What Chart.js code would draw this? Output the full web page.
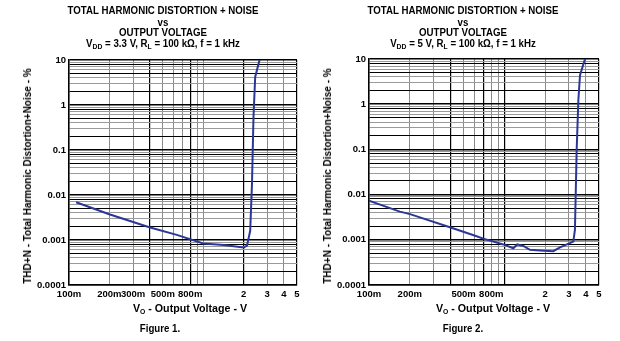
<!DOCTYPE html>
<html>
<head>
<meta charset="utf-8">
<script src="https://cdn.jsdelivr.net/npm/chart.js@4/dist/chart.umd.min.js"></script>
<style>
  html, body { margin: 0; padding: 0; background: #fff; }
  body { position: relative; width: 620px; height: 341px; overflow: hidden;
         font-family: "Liberation Sans", Arial, sans-serif; font-weight: bold; color: #000; }
  canvas { position: absolute; top: 0; }
  .t { position: absolute; white-space: nowrap; line-height: 1; font-size: 10px;
       transform: translate(-50%, -50%) scaleX(0.97); }
  .t sub { font-size: 7px; vertical-align: -2px; line-height: 0; }
  .yt { position: absolute; white-space: nowrap; line-height: 1; font-size: 10px;
        transform: translate(-50%, -50%) rotate(-90deg) scaleX(1.0); }
</style>
</head>
<body>
<canvas id="c1" width="310" height="341" style="left:0"></canvas>
<canvas id="c2" width="310" height="341" style="left:310px"></canvas>

<div class="t" style="left:163px;top:11px">TOTAL HARMONIC DISTORTION + NOISE</div>
<div class="t" style="left:163px;top:23px">vs</div>
<div class="t" style="left:163px;top:33px">OUTPUT VOLTAGE</div>
<div class="t" style="left:163px;top:44px">V<sub>DD</sub> = 3.3 V, R<sub>L</sub> = 100 kΩ, f = 1 kHz</div>
<div class="yt" style="left:28px;top:176px">THD+N - Total Harmonic Distortion+Noise - %</div>
<div class="t" style="left:190px;top:308px;font-size:11px">V<sub>O</sub> - Output Voltage - V</div>
<div class="t" style="left:160px;top:329px">Figure 1.</div>

<div class="t" style="left:463px;top:11px">TOTAL HARMONIC DISTORTION + NOISE</div>
<div class="t" style="left:463px;top:23px">vs</div>
<div class="t" style="left:463px;top:33px">OUTPUT VOLTAGE</div>
<div class="t" style="left:463px;top:44px">V<sub>DD</sub> = 5 V, R<sub>L</sub> = 100 kΩ, f = 1 kHz</div>
<div class="yt" style="left:328px;top:176px">THD+N - Total Harmonic Distortion+Noise - %</div>
<div class="t" style="left:493px;top:308px;font-size:11px">V<sub>O</sub> - Output Voltage - V</div>
<div class="t" style="left:463px;top:329px">Figure 2.</div>

<script>
// Measured THD+N (%) against output voltage (V)
const voltage33 = [0.113, 0.202, 0.402, 0.636, 1.0, 1.42, 2.0, 2.12, 2.24, 2.31, 2.37, 2.44, 2.63];
const thd33     = [0.0069, 0.0037, 0.0019, 0.0013, 0.00084, 0.00077, 0.00068, 0.00075, 0.0016, 0.018, 0.54, 4.2, 10];

const voltage5 = [0.1, 0.169, 0.201, 0.396, 0.624, 0.698, 0.982, 1.164, 1.245, 1.38, 1.545, 1.832, 2.297, 2.576, 3.23, 3.32, 3.42, 3.52, 3.62, 3.94];
const thd5     = [0.0073, 0.0042, 0.0037, 0.0019, 0.0012, 0.00106, 0.00079, 0.00065, 0.00079, 0.00073, 0.0006, 0.00058, 0.00056, 0.00068, 0.00091, 0.00165, 0.097, 1.24, 4.4, 10];

// Voltage grid lines and their labels
const xGrid = [0.1, 0.2, 0.3, 0.4, 0.5, 0.6, 0.7, 0.8, 0.9, 1, 2, 3, 4, 5];
const xLabels33 = ['100m', '200m', '300m', '', '500m', '', '', '800m', '', '', '2', '3', '4', '5'];
const xLabels5  = ['100m', '200m', '', '', '500m', '', '', '800m', '', '', '2', '3', '4', '5'];
const xDark33 = [0.1, 0.4, 0.8, 2, 5];
const xDark5  = [0.1, 0.4, 0.7, 1, 5];

// THD+N decades
const yDecades = [0.0001, 0.001, 0.01, 0.1, 1, 10];
const yLabels  = ['0.0001', '0.001', '0.01', '0.1', '1', '10'];
const yDarkMantissas = [1, 2, 5, 8];

const yGrid = [];
yDecades.forEach((d, i) => {
  if (i === yDecades.length - 1) { yGrid.push(d); return; }
  for (let m = 1; m <= 9; m++) yGrid.push(+(d * m).toPrecision(3));
});

function mantissa(v) {
  return Math.round(v / Math.pow(10, Math.floor(Math.log10(v) + 1e-9)));
}

Chart.defaults.font.family = '"Liberation Sans", Arial, sans-serif';
Chart.defaults.font.weight = 'bold';
Chart.defaults.color = '#000';

function makeChart(id, volts, thd, xLabels, xDark, plotLeft, padRight, top) {
  const dark = (v, list) => list.some(d => Math.abs(d - v) < 1e-6);
  return new Chart(document.getElementById(id), {
    type: 'line',
    data: {
      datasets: [{
        data: volts.map((v, i) => ({ x: v, y: thd[i] })),
        borderColor: '#2b3796',
        borderWidth: 2,
        pointRadius: 0,
        tension: 0,
        fill: false
      }]
    },
    options: {
      responsive: false,
      animation: false,
      devicePixelRatio: 1,
      layout: { padding: { left: 0, top: top, right: padRight, bottom: 36 } },
      plugins: { legend: { display: false }, tooltip: { enabled: false } },
      scales: {
        x: {
          type: 'logarithmic',
          min: 0.1, max: 5,
          afterBuildTicks: s => { s.ticks = xGrid.map(v => ({ value: v })); },
          afterFit: s => { s.height = 20; },
          ticks: {
            autoSkip: false, maxRotation: 0, padding: 4,
            font: { size: 9.5, weight: 'bold' },
            callback: (v, i) => xLabels[i]
          },
          grid: {
            drawTicks: false,
            color: c => dark(c.tick.value, xDark) ? '#000' : '#8a8a8a',
            lineWidth: c => dark(c.tick.value, xDark) ? 1.2 : 1
          },
          border: { display: true, color: '#000', width: 1.5 }
        },
        y: {
          type: 'logarithmic',
          min: 0.0001, max: 10,
          afterBuildTicks: s => { s.ticks = yGrid.map(v => ({ value: v })); },
          afterFit: s => { s.width = plotLeft; },
          ticks: {
            autoSkip: false, padding: 3,
            font: { size: 9.5, weight: 'bold' },
            callback: v => {
              const k = yDecades.findIndex(d => Math.abs(d - v) / d < 1e-6);
              return k >= 0 ? yLabels[k] : '';
            }
          },
          grid: {
            drawTicks: false,
            color: c => yDarkMantissas.includes(mantissa(c.tick.value)) ? '#000' : '#9a9a9a',
            lineWidth: c => mantissa(c.tick.value) === 1 ? 1.5 : 1
          },
          border: { display: true, color: '#000', width: 1.5 }
        }
      }
    }
  });
}

makeChart('c1', voltage33, thd33, xLabels33, xDark33, 69, 13, 60);
makeChart('c2', voltage5, thd5, xLabels5, xDark5, 59, 21, 59);
</script>
</body>
</html>
